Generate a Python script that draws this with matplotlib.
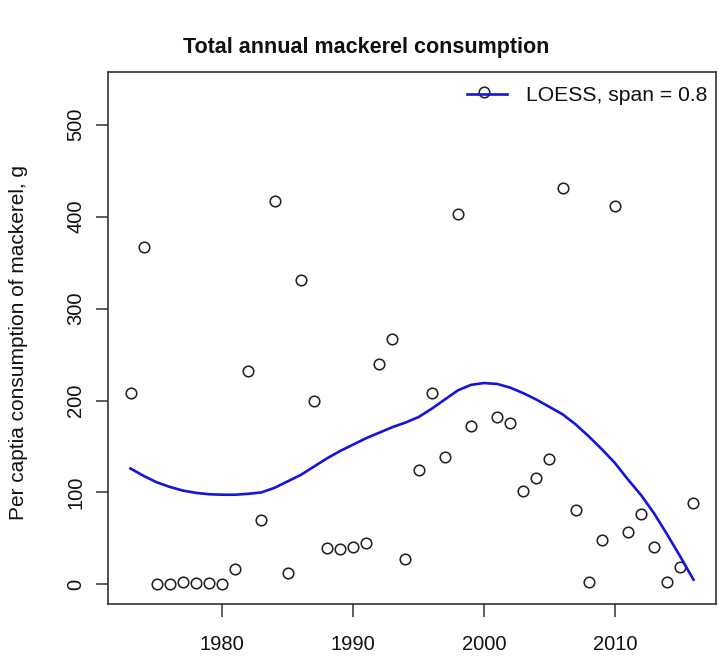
import matplotlib
matplotlib.use("Agg")
import matplotlib.pyplot as plt

plt.rcParams['font.family'] = ['Liberation Sans', 'DejaVu Sans']

years = list(range(1973, 2017))
consumption = [208, 367, 0, 0, 3, 1.5, 1, 0, 17, 232, 70, 417, 12, 331, 199,
               40, 38, 40.5, 45, 240, 267, 27.5, 124, 208, 139, 403, 172, 536,
               182.5, 176, 101.6, 116, 136, 431, 80.6, 2, 47.7, 412, 57, 77,
               41, 2, 18.5, 89]

loess_years = list(range(1973, 2017))
loess_values = [126, 118, 111, 106, 102, 99.5, 98, 97.5, 97.5, 98.5, 100, 105,
                112, 119, 128, 137, 145, 152, 159, 165, 171, 176, 182, 191,
                201, 211, 217, 219, 218, 214, 208, 201, 193, 185, 174, 161,
                147, 132, 114, 97, 77, 54, 30, 5]

xticks = [1980, 1990, 2000, 2010]
yticks = [0, 100, 200, 300, 400, 500]

W, H = 719, 660
fig = plt.figure(figsize=(W / 100, H / 100), dpi=100)
ax = fig.add_axes([108 / W, 56 / H, (716 - 108) / W, (604 - 72) / H])

ax.plot(years, consumption, linestyle='none', marker='o', markersize=7.6,
        markerfacecolor='none', markeredgecolor='#222222', markeredgewidth=1.15)
ax.plot(loess_years, loess_values, color='#1414dc', linewidth=1.9,
        label='LOESS, span = 0.8')

ax.set_xlim(1971.28, 2017.72)
ax.set_ylim(-21.4, 557.4)
ax.set_xticks(xticks)
ax.set_yticks(yticks)
ax.set_xticklabels([str(t) for t in xticks])
ax.set_yticklabels([str(t) for t in yticks], rotation=90, va='center')

for s in ax.spines.values():
    s.set_color('#333333')
    s.set_linewidth(1.2)
ax.tick_params(axis='both', direction='out', length=9, width=1.1,
               colors='#333333', labelcolor='#111111')
ax.tick_params(axis='x', labelsize=14.5, pad=13)
ax.tick_params(axis='y', labelsize=14.5, pad=7.5)

fig.text(19 / W, 1 - 342 / H, 'Per captia consumption of mackerel, g',
         rotation=90, ha='center', va='center', fontsize=15, color='#111111')
fig.text(366 / W, 1 - 47 / H, 'Total annual mackerel consumption',
         ha='center', va='center', fontsize=15.5, fontweight='bold', color='#111111')

leg = ax.legend(loc='upper right', frameon=False, fontsize=15.2,
                handlelength=1.9, handletextpad=0.9, borderaxespad=0,
                bbox_to_anchor=(1.0, 1 - 6 / 532))
for t in leg.get_texts():
    t.set_color('#111111')

fig.savefig('out.png', dpi=100)
